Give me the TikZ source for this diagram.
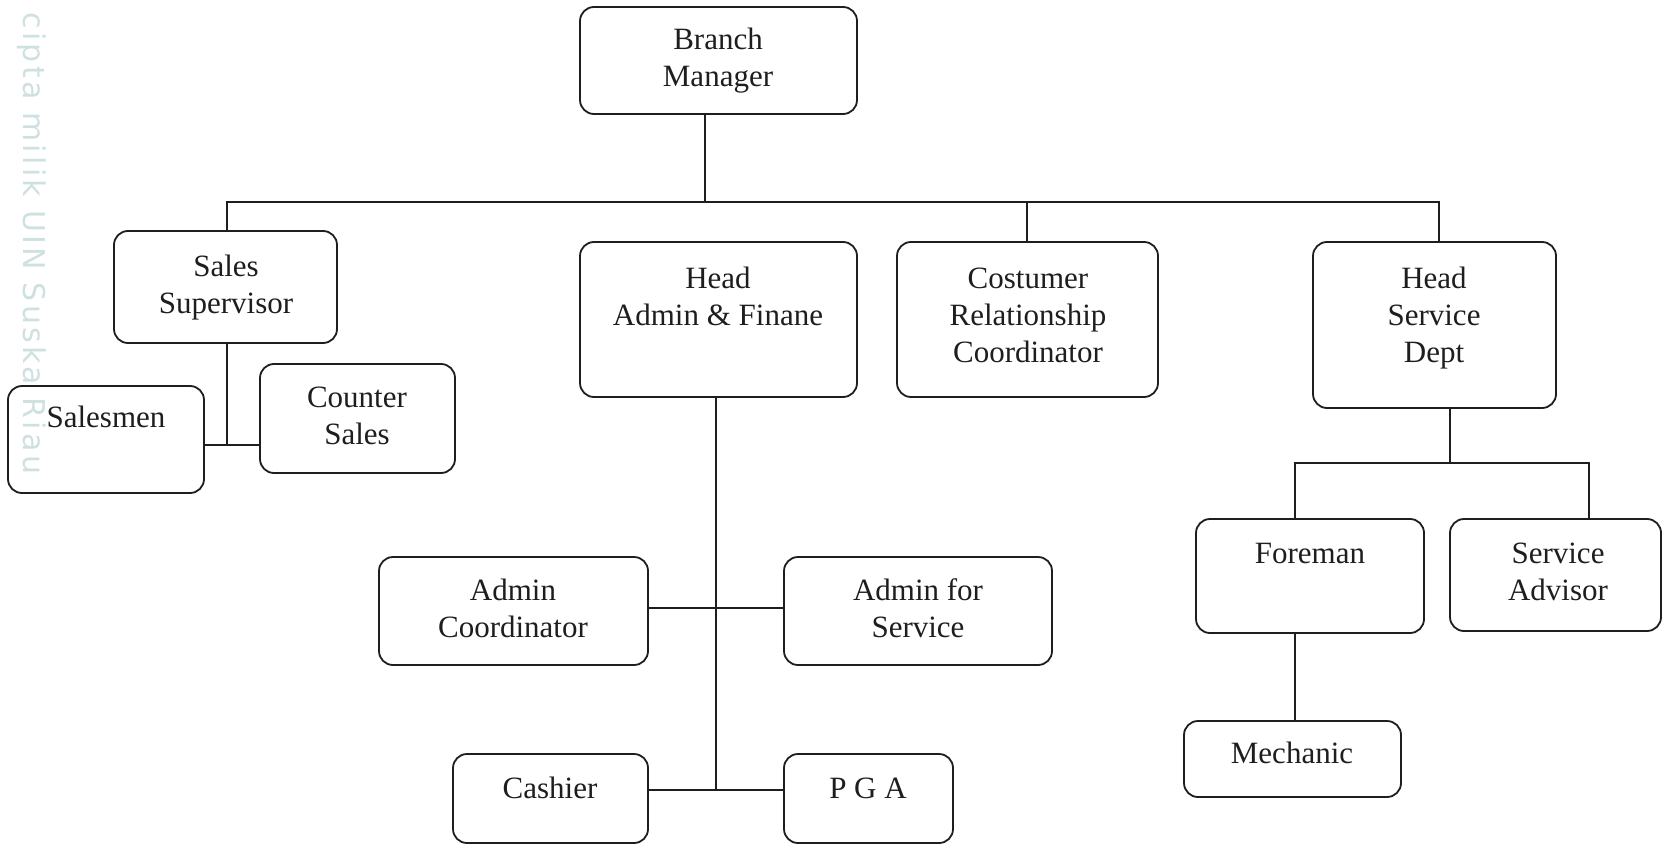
\documentclass[tikz,border=0pt]{standalone}
\usepackage{fontspec}
\setmainfont{Liberation Serif}
\newfontfamily\wmfont[LetterSpace=11]{DejaVu Sans}
\usetikzlibrary{fit,calc}
\definecolor{wmcol}{HTML}{CFE0E0}
\definecolor{ink}{HTML}{1E1E1E}
\begin{document}
\begin{tikzpicture}[x=0.5pt,y=-0.5pt,
  box/.style={draw=ink, line width=0.9pt, rounded corners=7pt, inner sep=0pt},
  lbl/.style={anchor=base, inner sep=0pt, text=ink, font=\fontsize{15.5}{18.5}\selectfont},
  ln/.style={draw=ink, line width=0.85pt}]
\useasboundingbox (0,0) rectangle (1663,845);
% watermark
\node[rotate=-90, anchor=base west, inner sep=0pt, text=wmcol, font=\wmfont\fontsize{15}{18}\selectfont] (wm) at (23,12) {cipta milik UIN Suska Riau};
% boxes
\node[box, fit={(580,7) (857,114)}] (bm) {};
\node[box, fit={(114,231) (337,343)}] (ss) {};
\node[box, fit={(8,386) (204,493)}] (sm) {};
\node[box, fit={(260,364) (455,473)}] (cs) {};
\node[box, fit={(580,242) (857,397)}] (ha) {};
\node[box, fit={(897,242) (1158,397)}] (crc) {};
\node[box, fit={(1313,242) (1556,408)}] (hsd) {};
\node[box, fit={(1196,519) (1424,633)}] (fm) {};
\node[box, fit={(1450,519) (1661,631)}] (sa) {};
\node[box, fit={(1184,721) (1401,797)}] (mech) {};
\node[box, fit={(379,557) (648,665)}] (ac) {};
\node[box, fit={(784,557) (1052,665)}] (afs) {};
\node[box, fit={(453,754) (648,843)}] (cash) {};
\node[box, fit={(784,754) (953,843)}] (pga) {};
% labels
\node[lbl] (bmt) at (718,50) {\begin{tabular}[t]{@{}c@{}}Branch\\Manager\end{tabular}};
\node[lbl] (sst) at (226,276) {\begin{tabular}[t]{@{}c@{}}Sales\\Supervisor\end{tabular}};
\node[lbl] (smt) at (106,427) {Salesmen};
\node[lbl] (cst) at (357,407) {\begin{tabular}[t]{@{}c@{}}Counter\\Sales\end{tabular}};
\node[lbl] (hat) at (718,288) {\begin{tabular}[t]{@{}c@{}}Head\\Admin \& Finane\end{tabular}};
\node[lbl] (crct) at (1028,288) {\begin{tabular}[t]{@{}c@{}}Costumer\\Relationship\\Coordinator\end{tabular}};
\node[lbl] (hsdt) at (1434,288) {\begin{tabular}[t]{@{}c@{}}Head\\Service\\Dept\end{tabular}};
\node[lbl] (fmt) at (1310,563) {Foreman};
\node[lbl] (sat) at (1558,563) {\begin{tabular}[t]{@{}c@{}}Service\\Advisor\end{tabular}};
\node[lbl] (mecht) at (1292,763) {Mechanic};
\node[lbl] (act) at (513,600) {\begin{tabular}[t]{@{}c@{}}Admin\\Coordinator\end{tabular}};
\node[lbl] (afst) at (918,600) {\begin{tabular}[t]{@{}c@{}}Admin for\\Service\end{tabular}};
\node[lbl] (casht) at (550,798) {Cashier};
\node[lbl] (pgat) at (868,798) {P G A};
% junctions
\coordinate (busL) at (227,202);
\coordinate (busM) at (705,202);
\coordinate (busC) at (1027,202);
\coordinate (busR) at (1439,202);
\coordinate (sj) at (227,445);
\coordinate (haj1) at (716,608);
\coordinate (haj2) at (716,790);
\coordinate (sj2) at (1450,463);
\coordinate (fmj) at (1295,463);
\coordinate (saj) at (1589,463);
% connectors
\draw[ln] (bm.south -| busM) -- (busM);
\draw[ln] (ss.north -| busL) -- (busL) -- (busR) -- (hsd.north -| busR);
\draw[ln] (busC) -- (crc.north -| busC);
\draw[ln] (ss.south -| sj) -- (sj);
\draw[ln] (sm.east |- sj) -- (cs.west |- sj);
\draw[ln] (ha.south -| haj1) -- (haj2);
\draw[ln] (ac.east |- haj1) -- (afs.west |- haj1);
\draw[ln] (cash.east |- haj2) -- (pga.west |- haj2);
\draw[ln] (hsd.south -| sj2) -- (sj2);
\draw[ln] (fm.north -| fmj) -- (fmj) -- (saj) -- (sa.north -| saj);
\draw[ln] (fm.south -| fmj) -- (mech.north -| fmj);
\end{tikzpicture}
\end{document}
